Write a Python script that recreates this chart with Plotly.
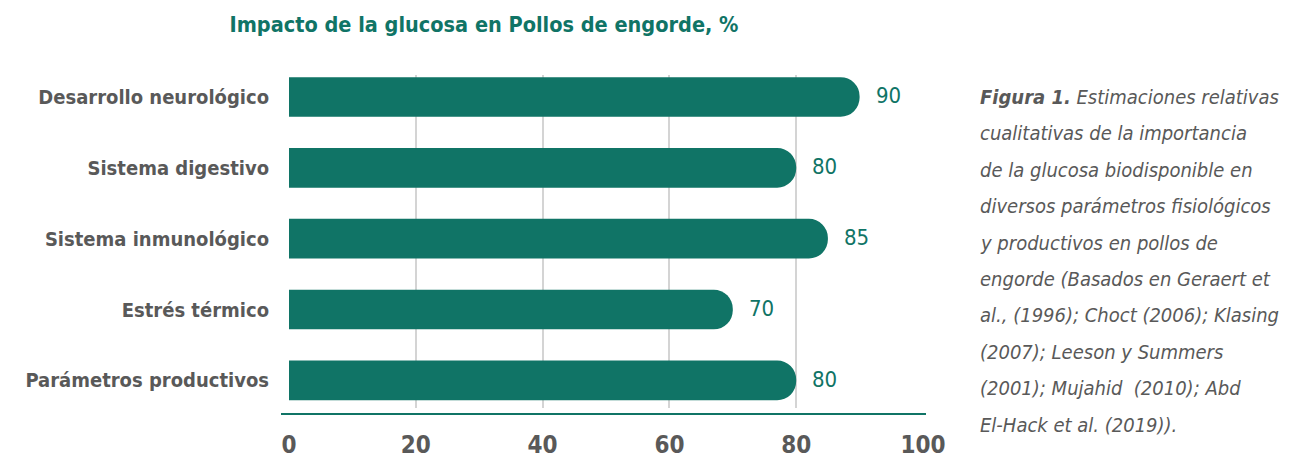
import plotly.graph_objects as go

categories = ["Parámetros productivos", "Estrés térmico", "Sistema inmunológico",
              "Sistema digestivo", "Desarrollo neurológico"]
values = [80, 70, 85, 80, 90]
tick_vals = [0, 20, 40, 60, 80, 100]
title_text = "Impacto de la glucosa en Pollos de engorde, %"
caption_lines = [
    "<b>Figura 1.</b> Estimaciones relativas",
    "cualitativas de la importancia",
    "de la glucosa biodisponible en",
    "diversos parámetros fisiológicos",
    "y productivos en pollos de",
    "engorde (Basados en Geraert et",
    "al., (1996); Choct (2006); Klasing",
    "(2007); Leeson y Summers",
    "(2001); Mujahid  (2010); Abd",
    "El-Hack et al. (2019)).",
]

TEAL = "#107466"
GRAY = "#595959"
FONT = "DejaVu Sans Condensed, sans-serif"

W, H = 1306, 474
ml, mr, mt, mb = 289, W - 923, 75, H - 408
pw = W - ml - mr
ph = H - mt - mb

fig = go.Figure()
fig.add_trace(go.Bar(
    x=values, y=categories, orientation="h",
    marker=dict(color=TEAL, cornerradius="50%", line=dict(width=0)),
    width=0.56, hoverinfo="skip",
))

for c, v in zip(categories, values):
    fig.add_annotation(x=v, y=c, xref="x", yref="y", text=str(v), showarrow=False,
                       xanchor="left", xshift=14, yshift=1,
                       font=dict(family=FONT, size=22, color=TEAL))

for i, line in enumerate(caption_lines):
    ypix = 97 + i * 36.4
    fig.add_annotation(x=(978 - ml) / pw, y=(H - mb - ypix) / ph,
                       xref="paper", yref="paper", text="<i>" + line + "</i>",
                       showarrow=False, xanchor="left", yanchor="middle",
                       font=dict(family=FONT, size=20, color=GRAY))

fig.add_shape(type="line", xref="paper", yref="paper",
              x0=(281 - ml) / pw, x1=(926 - ml) / pw,
              y0=-6 / ph, y1=-6 / ph, line=dict(color=TEAL, width=2))

fig.update_layout(
    width=W, height=H,
    margin=dict(l=ml, r=mr, t=mt, b=mb, pad=0, autoexpand=False),
    paper_bgcolor="white", plot_bgcolor="white",
    showlegend=False,
    title=dict(text="<b>" + title_text + "</b>", x=484 / W, xanchor="center",
               y=1 - 24 / H, yanchor="middle",
               font=dict(family=FONT, size=21.5, color=TEAL)),
    xaxis=dict(range=[0, 100], tickvals=tick_vals,
               ticktext=["<b>%d</b>" % t for t in tick_vals], showgrid=True,
               gridcolor="#d4d4d4", gridwidth=1.5, zeroline=False, showline=False,
               ticks="", ticklabelstandoff=20, automargin=False,
               tickfont=dict(family=FONT, size=24, color=GRAY)),
    yaxis=dict(range=[-0.39, 4.31], categoryorder="array", categoryarray=categories,
               tickvals=categories, ticktext=["<b>" + c + "</b>" for c in categories],
               showgrid=False, zeroline=False, showline=False, ticks="",
               ticklabelstandoff=19, automargin=False,
               tickfont=dict(family=FONT, size=20, color=GRAY)),
)

fig.write_html("out.html")
